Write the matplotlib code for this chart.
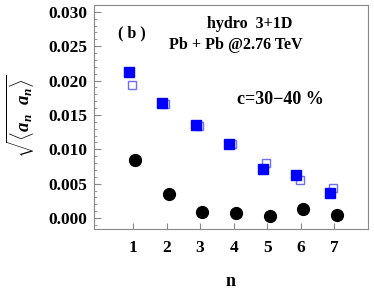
import numpy as np
import matplotlib
matplotlib.use("Agg")
import matplotlib.pyplot as plt
from matplotlib.ticker import MultipleLocator

plt.rcParams['font.family'] = ['Liberation Serif', 'DejaVu Serif']
plt.rcParams['mathtext.fontset'] = 'custom'
plt.rcParams['mathtext.rm'] = 'Liberation Serif:bold'
plt.rcParams['mathtext.it'] = 'Liberation Serif:bold:italic'
plt.rcParams['mathtext.bf'] = 'Liberation Serif:bold'

n = np.arange(1, 8)
hydro_filled = [0.0213, 0.0168, 0.0135, 0.0107, 0.0071, 0.0063, 0.0037]
hydro_open = [0.0194, 0.0166, 0.0134, 0.0107, 0.0080, 0.0056, 0.0044]
black_circles = [0.00845, 0.00345, 0.00092, 0.00077, 0.00029, 0.00127, 0.00039]

fig = plt.figure(figsize=(3.74, 2.91), dpi=100)
ax = fig.add_axes([94 / 374, 1 - 229 / 291, (368 - 94) / 374, (229 - 5) / 291])

ax.plot(n - 0.04, hydro_open, 's', ms=6.0, mfc='white', mec='#6f6fff', mew=1.0)
ax.plot(n - 0.13, hydro_filled, 's', ms=6.8, color='#0000ff')
ax.plot(n + 0.07, black_circles, 'o', ms=8.5, color='black')

ax.set_xlim(-0.16, 8.0)
ax.set_ylim(-0.0016, 0.031)
ax.set_xticks(n)
ax.yaxis.set_major_locator(MultipleLocator(0.005))
ax.yaxis.set_minor_locator(MultipleLocator(0.001))
ax.yaxis.set_major_formatter(matplotlib.ticker.FormatStrFormatter('%.3f'))
ax.tick_params(axis='both', direction='in', labelsize=12.5, color='#888888')
ax.tick_params(axis='x', pad=8, length=4)
ax.tick_params(axis='y', which='major', length=5, pad=5)
ax.tick_params(axis='y', which='minor', direction='in', length=2.5, color='#888888')
for lab in ax.get_xticklabels() + ax.get_yticklabels():
    lab.set_fontweight('bold')
for sp in ax.spines.values():
    sp.set_color('#888888')
    sp.set_linewidth(0.8)

ax.set_xlabel('n', fontsize=13, fontweight='bold', labelpad=12)
fig.text(0.055, 0.6, r'$\sqrt{\langle a_n\ \ a_n\rangle}$', rotation=90,
         fontsize=13.5, ha='center', va='center')

ax.text(0.14, 0.875, '( b )', transform=ax.transAxes, fontsize=11.5, fontweight='bold', ha='center', va='center')
ax.text(0.57, 0.915, 'hydro  3+1D', transform=ax.transAxes, fontsize=11.5, fontweight='bold', ha='center', va='center')
ax.text(0.518, 0.82, 'Pb + Pb @2.76 TeV', transform=ax.transAxes, fontsize=11.5, fontweight='bold', ha='center', va='center')
ax.text(0.68, 0.576, 'c=30\u221240 %', transform=ax.transAxes, fontsize=13, fontweight='bold', ha='center', va='center')

fig.savefig('out.png', dpi=100)
